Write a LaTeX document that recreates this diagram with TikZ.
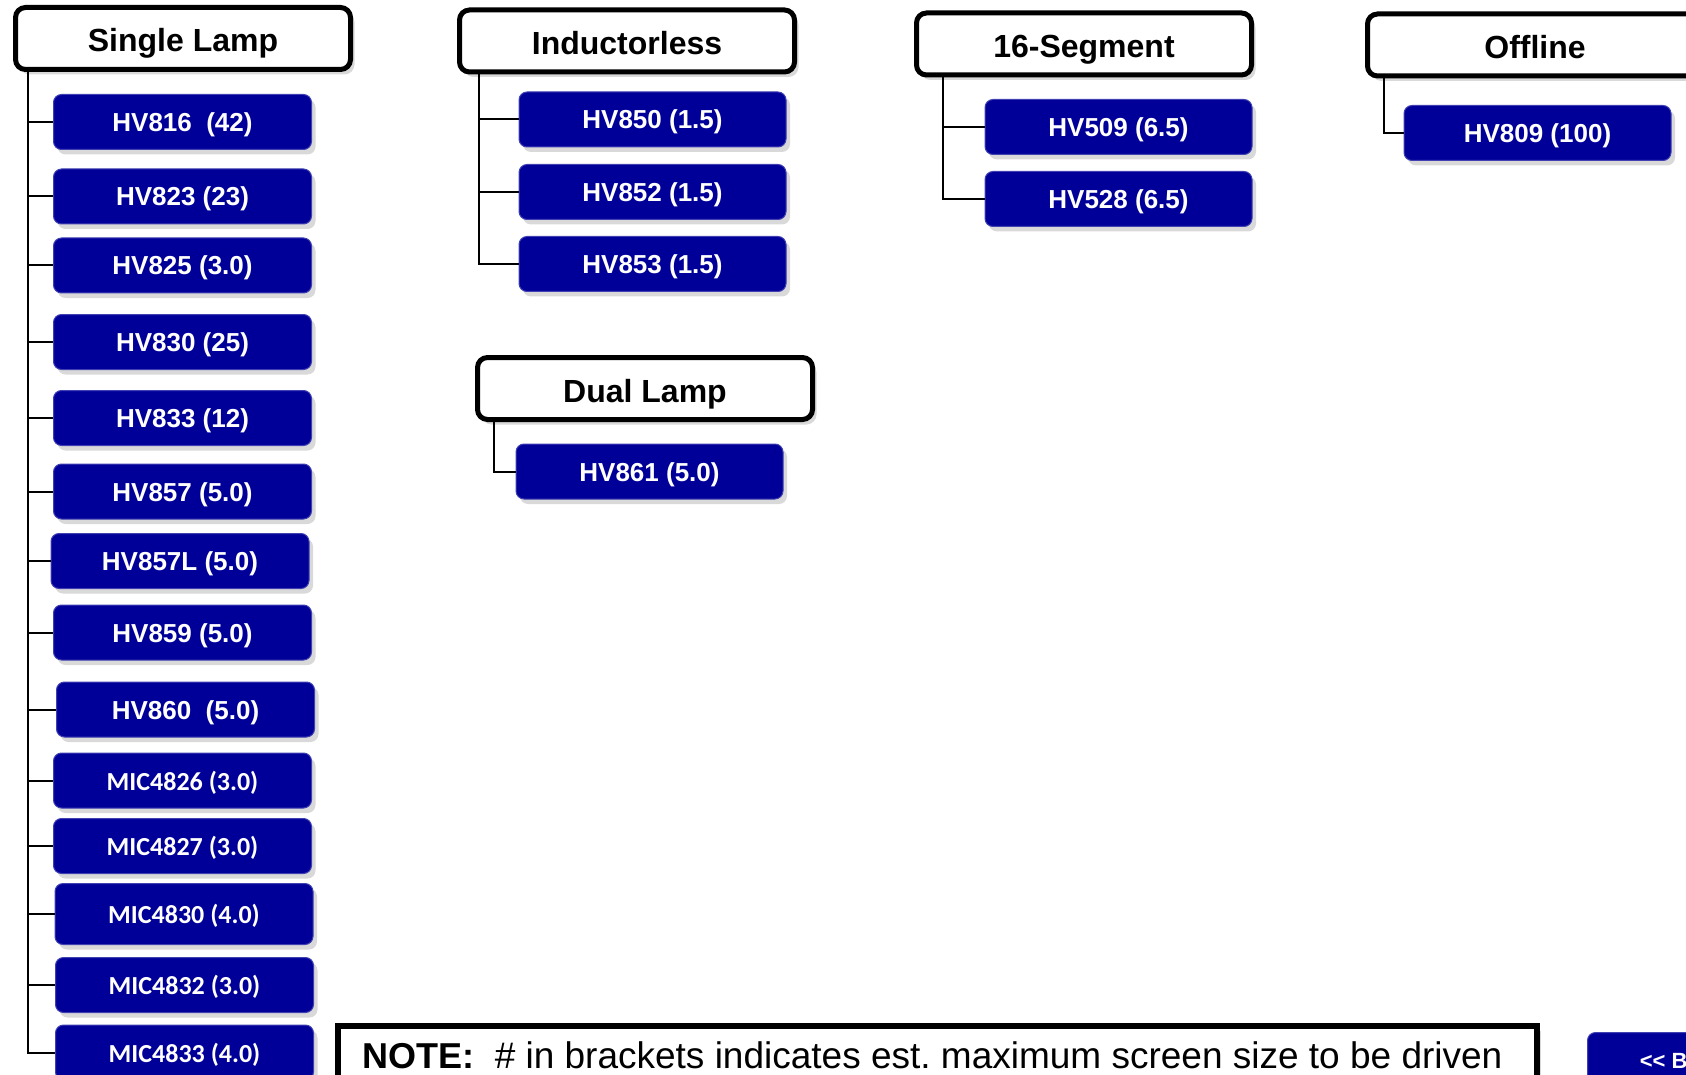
\documentclass[tikz,border=0pt]{standalone}
\usepackage{fontspec}
\setmainfont{Liberation Sans}
\newfontfamily\micfont{Carlito}
\usetikzlibrary{shadows}
\definecolor{chipblue}{RGB}{0,0,153}

\begin{document}
\begin{tikzpicture}[x=1pt,y=-1pt,
  shade/.style={drop shadow={shadow xshift=4pt, shadow yshift=-5pt, opacity=0.3}},
  group/.style={draw, line width=5pt, rounded corners=10pt, fill=white, shade,
    minimum width=335pt, minimum height=62pt, text height=27pt, text depth=0pt,
    font=\bfseries\fontsize{32}{38}\selectfont},
  chip/.style={draw=chipblue!75!white, line width=1pt, fill=chipblue, rounded corners=8pt, shade,
    minimum width=258pt, minimum height=55pt, text height=19pt, text depth=0pt,
    text=white, font=\bfseries\fontsize{26}{31}\selectfont},
  widechip/.style={chip, minimum width=267pt},
  micchip/.style={chip, font=\micfont\bfseries\fontsize{26}{31}\selectfont},
  conn/.style={line width=2pt}]
\useasboundingbox (0,0) rectangle (1686,1075);
\clip (0,0) rectangle (1686,1075);

% group headers
\node[group] (single) at (183,38.5) {Single Lamp};
\node[group] (induct) at (627,41) {Inductorless};
\node[group] (dual) at (645,388.5) {Dual Lamp};
\node[group] (seg) at (1084,44) {16-Segment};
\node[group] (offline) at (1535,45) {Offline};

% single lamp parts
\node[chip] (s1) at (182.5,122) {HV816\ \ (42)};
\node[chip] (s2) at (182.5,196.5) {HV823 (23)};
\node[chip] (s3) at (182.5,265.5) {HV825 (3.0)};
\node[chip] (s4) at (182.5,342) {HV830 (25)};
\node[chip] (s5) at (182.5,418) {HV833 (12)};
\node[chip] (s6) at (182.5,491.5) {HV857 (5.0)};
\node[chip] (s7) at (180,561) {HV857L (5.0)};
\node[chip] (s8) at (182.5,632.5) {HV859 (5.0)};
\node[chip] (s9) at (185.5,709.5) {HV860\ \ (5.0)};
\node[micchip] (s10) at (182.5,780.5) {MIC4826 (3.0)};
\node[micchip] (s11) at (182.5,846) {MIC4827 (3.0)};
\node[micchip, minimum height=61pt] (s12) at (184,914) {MIC4830 (4.0)};
\node[micchip] (s13) at (184.5,985) {MIC4832 (3.0)};
\node[micchip] (s14) at (184.5,1052.5) {MIC4833 (4.0)};

% other parts
\node[widechip] (i1) at (652.5,119.5) {HV850 (1.5)};
\node[widechip] (i2) at (652.5,192) {HV852 (1.5)};
\node[widechip] (i3) at (652.5,264) {HV853 (1.5)};
\node[widechip] (d1) at (649.5,471.5) {HV861 (5.0)};
\node[widechip] (g1) at (1118.5,127) {HV509 (6.5)};
\node[widechip] (g2) at (1118.5,199) {HV528 (6.5)};
\node[widechip] (o1) at (1537.5,133) {HV809 (100)};

% tree lines
\coordinate (sl) at ([xshift=15pt]single.south west);
\coordinate (il) at ([xshift=21.5pt]induct.south west);
\coordinate (dl) at ([xshift=19pt]dual.south west);
\coordinate (gl) at ([xshift=29pt]seg.south west);
\coordinate (ol) at ([xshift=19pt]offline.south west);
\foreach \n in {s1,s2,s3,s4,s5,s6,s7,s8,s9,s10,s11,s12,s13,s14}
  \draw[conn] (sl) |- (\n.west);
\foreach \n in {i1,i2,i3}
  \draw[conn] (il) |- (\n.west);
\draw[conn] (dl) |- (d1.west);
\foreach \n in {g1,g2}
  \draw[conn] (gl) |- (\n.west);
\draw[conn] (ol) |- (o1.west);

% note and back button
\draw[line width=6pt, fill=white, shade] (338,1026) rectangle (1537,1130);
\node[anchor=base west, inner sep=0pt, font=\fontsize{37}{44}\selectfont] (note) at (362,1068)
  {{\bfseries\fontsize{36}{43}\selectfont NOTE:}\ \ \# in brackets indicates est.\ maximum screen size to be driven};
\node[chip, anchor=north west, minimum width=200pt, minimum height=56pt, text height=16pt,
  font=\bfseries\fontsize{22}{26}\selectfont] (back) at (1587,1032) {<{}< BACK};
\end{tikzpicture}
\end{document}
